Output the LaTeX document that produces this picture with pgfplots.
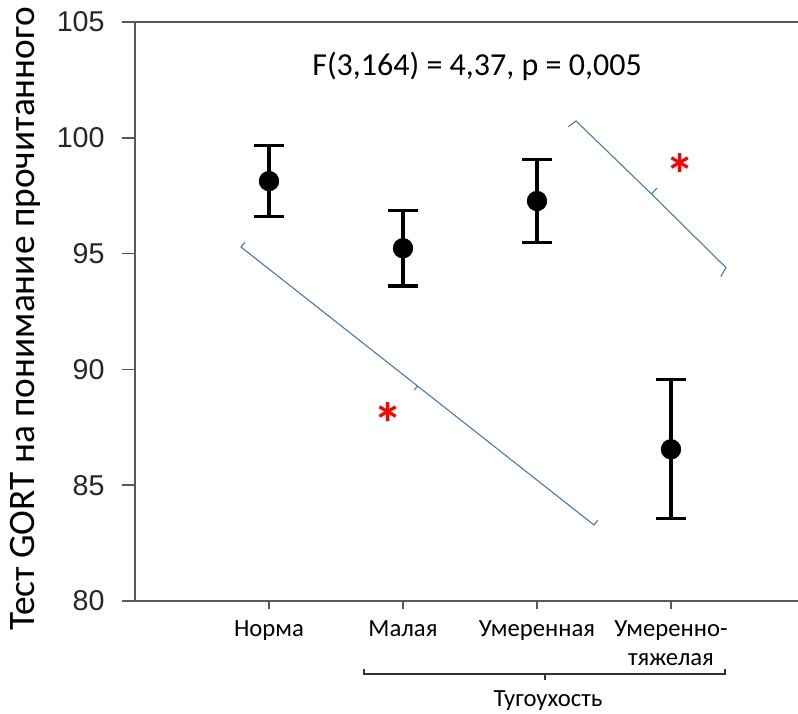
\documentclass[border=0pt]{standalone}
\usepackage{fontspec}
\setmainfont{Carlito}
\newfontfamily\arialfont{Liberation Sans}
\usepackage{pgfplots}
\pgfplotsset{compat=1.18}
\definecolor{brblue}{RGB}{68,114,196}
\begin{document}
\begin{tikzpicture}
\path[use as bounding box] (-101.25pt,-84pt) rectangle (497.25pt,450.75pt);
\begin{axis}[
  scale only axis,
  width=497.25pt, height=434.25pt,
  anchor=south west, at={(0,0)},
  xmin=0, xmax=4.948, ymin=80, ymax=105,
  axis x line*=box, axis y line*=left,
  axis line style={black!65, line width=1.1pt},
  xtick={1,2,3,4},
  xticklabels={Норма,Малая,Умеренная,Умеренно-\\тяжелая},
  xtick pos=bottom, ytick pos=left,
  ytick={80,85,90,95,100,105},
  tick align=outside,
  tick style={black!65, line width=1.1pt},
  xtick style={/pgfplots/major tick length=6pt},
  ytick style={/pgfplots/major tick length=9.75pt},
  yticklabel style={font=\arialfont\fontsize{21.5}{21.5}\selectfont, text=black!85, xshift=-15pt},
  xticklabel style={font=\fontsize{18.5}{21.5}\selectfont, align=center, anchor=north, yshift=-7pt},
  /pgf/number format/assume math mode=true,
  ylabel={Тест GORT на понимание прочитанного},
  ylabel style={at={(axis description cs:-0.166,0.487)}, anchor=center, font=\fontsize{28}{28}\selectfont},
  clip=false,
]
\addplot[only marks, mark=*, mark size=7.4pt, mark options={fill=black, draw=black},
  error bars/.cd, y dir=both, y explicit,
  error bar style={line width=2.5pt, black},
  error mark options={rotate=90, mark size=11.25pt, line width=2.5pt, black}]
coordinates {
  (1,98.13) +- (0,1.53)
  (2,95.23) +- (0,1.63)
  (3,97.27) +- (0,1.78)
  (4,86.55) +- (0,3.0)
};
\end{axis}
\begin{scope}[x=0.75pt, y=-0.75pt, shift={(-101.25pt,450.75pt)}]
  % F statistic
  \node[font=\fontsize{24}{24}\selectfont] at (477,66) {F(3,164) = 4,37, p = 0,005};
  % large bracket
  \draw[brblue, line width=0.8pt] (244.7,242.3) -- (241,247) -- (417.5,386) -- (594,525) -- (597.7,520.3);
  \draw[brblue, line width=0.8pt] (417.5,386) -- (414.4,390);
  % small bracket
  \draw[brblue, line width=0.8pt] (568.3,126.7) -- (576,121) -- (651.5,194) -- (726,267.7) -- (720.7,276.7);
  \draw[brblue, line width=0.8pt] (651.5,194) -- (657,188);
  % asterisks
  \node[text=red, font=\fontsize{44}{44}\selectfont\bfseries, anchor=center] at (388,424) {*};
  \node[text=red, font=\fontsize{44}{44}\selectfont\bfseries, anchor=center] at (680,175) {*};
  % Tugoukhost bracket
  \draw[black!80, line width=0.9pt] (364,669) -- (364,674) -- (725,674) -- (725,669);
  \draw[black!80, line width=0.9pt] (545,674) -- (545,680);
  \node[font=\fontsize{18.5}{18.5}\selectfont] at (548,701) {Тугоухость};
\end{scope}
\end{tikzpicture}
\end{document}
